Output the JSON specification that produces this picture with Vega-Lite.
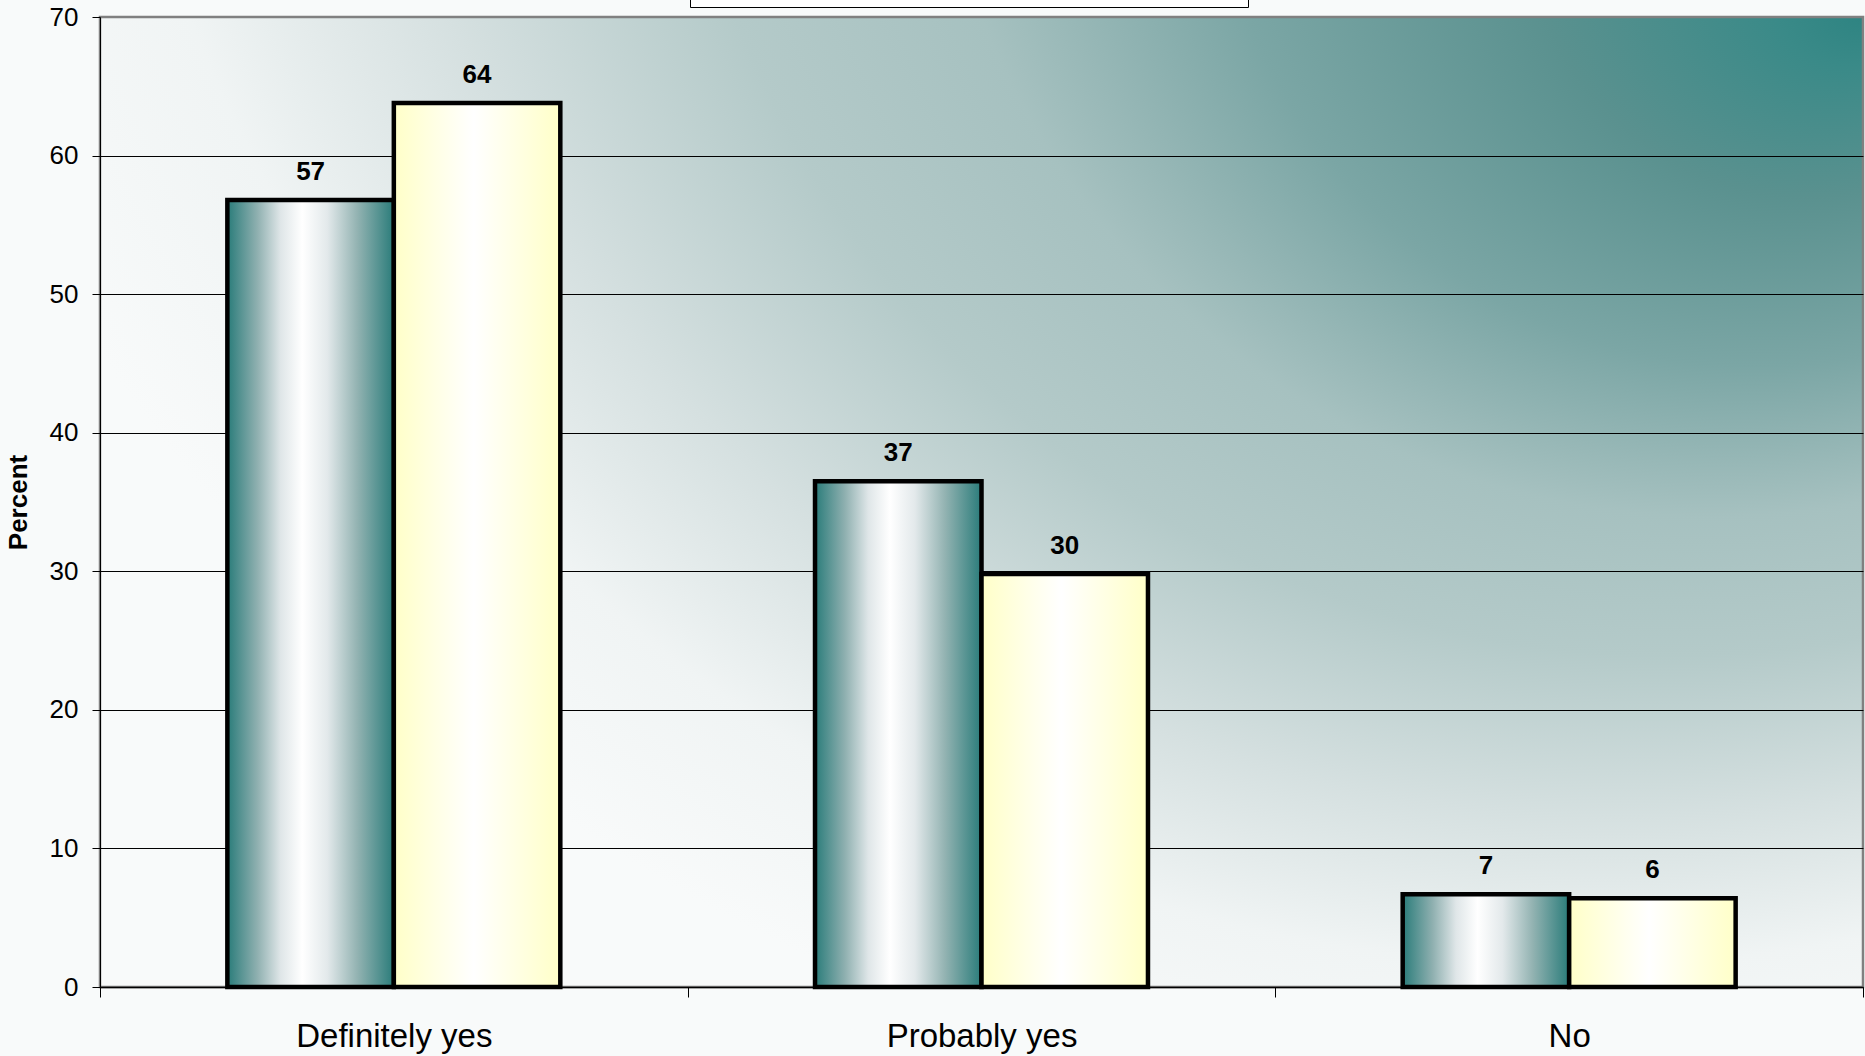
{
  "$schema": "https://vega.github.io/schema/vega-lite/v6.json",
  "autosize": "none",
  "width": 1763,
  "height": 970,
  "padding": {"left": 100, "top": 17, "right": 2, "bottom": 69},
  "background": "#f8fafa",
  "config": {
    "font": "Liberation Sans",
    "view": {
      "stroke": "#808080",
      "strokeWidth": 2.5,
      "fill": {
        "gradient": "radial",
        "x1": 1, "y1": 0.2249, "r1": 0,
        "x2": 0.7533, "y2": -0.2453, "r2": 1.2916,
        "stops": [
          {"offset": 0, "color": "#2e8482"},
          {"offset": 0.0345, "color": "#3a8a88"},
          {"offset": 0.124, "color": "#5a918f"},
          {"offset": 0.241, "color": "#7ba6a5"},
          {"offset": 0.31, "color": "#98b8b7"},
          {"offset": 0.345, "color": "#a6c1c0"},
          {"offset": 0.441, "color": "#b4cac9"},
          {"offset": 0.552, "color": "#d5e0e0"},
          {"offset": 0.655, "color": "#f0f4f4"},
          {"offset": 0.759, "color": "#f8fafa"},
          {"offset": 1, "color": "#f8fafa"}
        ]
      }
    }
  },
  "data": {
    "values": [
      {"answer": "Definitely yes", "series": "Survey 1", "pct": 56.8, "label": "57"},
      {"answer": "Definitely yes", "series": "Survey 2", "pct": 63.8, "label": "64"},
      {"answer": "Probably yes", "series": "Survey 1", "pct": 36.5, "label": "37"},
      {"answer": "Probably yes", "series": "Survey 2", "pct": 29.8, "label": "30"},
      {"answer": "No", "series": "Survey 1", "pct": 6.7, "label": "7"},
      {"answer": "No", "series": "Survey 2", "pct": 6.4, "label": "6"}
    ]
  },
  "encoding": {
    "x": {
      "field": "answer",
      "type": "nominal",
      "sort": ["Definitely yes", "Probably yes", "No"],
      "scale": {"paddingInner": 0, "paddingOuter": 0},
      "axis": {
        "title": null,
        "labelAngle": 0,
        "labelFontSize": 33,
        "labelColor": "#000000",
        "labelPadding": 23,
        "labelLimit": 0,
        "tickBand": "extent",
        "tickSize": 10,
        "tickColor": "#000000",
        "tickWidth": 1,
        "domainColor": "#000000",
        "domainWidth": 1.5,
        "grid": false
      }
    },
    "xOffset": {
      "field": "series",
      "type": "nominal",
      "scale": {"paddingOuter": 0.765, "paddingInner": 0}
    },
    "y": {
      "field": "pct",
      "type": "quantitative",
      "scale": {"domain": [0, 70], "nice": false},
      "axis": {
        "title": "Percent",
        "titleFontSize": 26,
        "titleFontWeight": "bold",
        "titleColor": "#000000",
        "titleAngle": -90,
        "titleX": -82,
        "titleBaseline": "middle",
        "values": [0, 10, 20, 30, 40, 50, 60, 70],
        "labelFontSize": 26,
        "labelColor": "#000000",
        "labelPadding": 14,
        "tickSize": 8,
        "tickColor": "#000000",
        "domainColor": "#000000",
        "domainWidth": 1,
        "grid": true,
        "gridColor": {"condition": {"test": "datum.value == 70", "value": "#808080"}, "value": "#000000"},
        "gridWidth": 1
      }
    }
  },
  "layer": [
    {
      "transform": [{"filter": "datum.series == 'Survey 1'"}],
      "mark": {
        "type": "bar",
        "stroke": "#000000",
        "strokeWidth": 4.5,
        "fill": {
          "gradient": "linear",
          "x1": 0, "y1": 0, "x2": 1, "y2": 0,
          "stops": [
            {"offset": 0, "color": "#2a7c7a"},
            {"offset": 0.18, "color": "#8fb0b0"},
            {"offset": 0.32, "color": "#dfe6e8"},
            {"offset": 0.45, "color": "#ffffff"},
            {"offset": 0.6, "color": "#e3e9eb"},
            {"offset": 0.78, "color": "#93b3b2"},
            {"offset": 1, "color": "#2a7c7a"}
          ]
        }
      },
      "encoding": {
        "stroke": {
          "field": "series",
          "type": "nominal",
          "scale": {"domain": ["Survey 1", "Survey 2"], "range": ["#000000", "#000000"]},
          "legend": {
            "title": null,
            "orient": "none",
            "legendX": 590,
            "legendY": -84,
            "direction": "horizontal",
            "fillColor": "#ffffff",
            "strokeColor": "#000000",
            "padding": 20,
            "labelExpr": "''",
            "labelFontSize": 26,
            "symbolSize": 900,
            "symbolType": "square",
            "columnPadding": 444
          }
        }
      }
    },
    {
      "transform": [{"filter": "datum.series == 'Survey 2'"}],
      "mark": {
        "type": "bar",
        "stroke": "#000000",
        "strokeWidth": 4.5,
        "fill": {
          "gradient": "linear",
          "x1": 0, "y1": 0, "x2": 1, "y2": 0,
          "stops": [
            {"offset": 0, "color": "#ffffc8"},
            {"offset": 0.48, "color": "#ffffff"},
            {"offset": 1, "color": "#ffffc8"}
          ]
        }
      }
    },
    {
      "mark": {
        "type": "text",
        "dy": -20,
        "baseline": "alphabetic",
        "align": "center",
        "fontSize": 26,
        "fontWeight": "bold",
        "color": "#000000"
      },
      "encoding": {
        "text": {"field": "label", "type": "nominal"}
      }
    }
  ]
}
